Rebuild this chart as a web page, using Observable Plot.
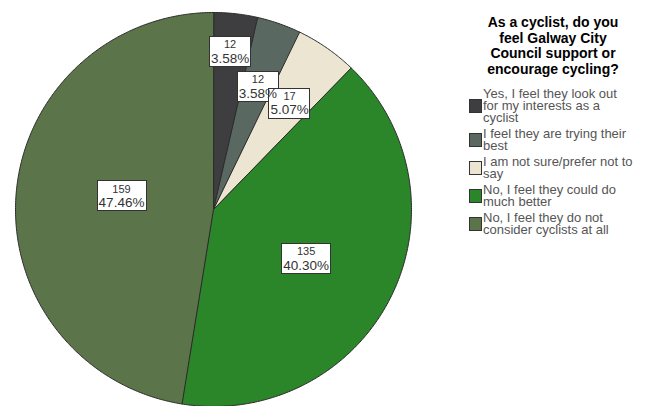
<!DOCTYPE html>
<html>
<head>
<meta charset="utf-8">
<script src="https://cdn.jsdelivr.net/npm/d3@7"></script>
<script src="https://cdn.jsdelivr.net/npm/@observablehq/plot@0.6"></script>
<style>
  html, body { margin: 0; padding: 0; background: #fff; }
  #wrap { position: relative; width: 648px; height: 406px; overflow: hidden; font-family: "Liberation Sans", Arial, sans-serif; }
  #chart { position: absolute; left: 0; top: 0; }
  #title { position: absolute; left: 458px; top: 15px; width: 190px; text-align: center; font-weight: bold; font-size: 14px; line-height: 15.7px; color: #000; white-space: pre-line; }
  #legend { position: absolute; left: 469px; top: 88px; width: 175px; }
  .item { display: flex; align-items: center; margin-bottom: 4px; }
  .sw { width: 11px; height: 12px; border: 1px solid #333; flex: none; margin-right: 1px; }
  .lab { font-size: 13px; line-height: 12px; color: #555; white-space: pre-line; }
</style>
</head>
<body>
<div id="wrap">
  <div id="chart"></div>
  <div id="title"></div>
  <div id="legend"></div>
</div>
<script>
const title = "As a cyclist, do you\nfeel Galway City\nCouncil support or\nencourage cycling?";
const categories = [
  "Yes, I feel they look out for my interests as a cyclist",
  "I feel they are trying their best",
  "I am not sure/prefer not to say",
  "No, I feel they could do much better",
  "No, I feel they do not consider cyclists at all"
];
const legendLines = [
  ["Yes, I feel they look out", "for my interests as a", "cyclist"],
  ["I feel they are trying their", "best"],
  ["I am not sure/prefer not to", "say"],
  ["No, I feel they could do", "much better"],
  ["No, I feel they do not", "consider cyclists at all"]
];
const counts = [12, 12, 17, 135, 159];
const percents = ["3.58%", "3.58%", "5.07%", "40.30%", "47.46%"];
const colors = ["#3e3e40", "#596860", "#ebe5d2", "#2b8529", "#5c744a"];
// label placement (layout): radius fraction and angular nudge in degrees
const labelRadius = [0.807, 0.665, 0.663, 0.529, 0.47];
const labelNudge = [-0.5, 0.4, 0.5, 1.3, 4.1];

// pie geometry from the values
const arcs = d3.pie().sort(null).value(d => d)(counts);
const slicePts = [];
arcs.forEach((a, i) => {
  slicePts.push({cat: categories[i], x: 0, y: 0});
  const n = Math.max(2, Math.ceil((a.endAngle - a.startAngle) / (Math.PI / 360)));
  for (let k = 0; k <= n; k++) {
    const t = a.startAngle + (a.endAngle - a.startAngle) * k / n;
    slicePts.push({cat: categories[i], x: Math.sin(t), y: Math.cos(t)});
  }
});
const labels = arcs.map((a, i) => {
  const m = (a.startAngle + a.endAngle) / 2 + labelNudge[i] * Math.PI / 180;
  return {count: String(counts[i]), pct: percents[i], x: labelRadius[i] * Math.sin(m), y: labelRadius[i] * Math.cos(m)};
});

const svg = Plot.plot({
  width: 440,
  height: 406,
  margin: 0,
  style: {fontFamily: "'Liberation Sans', Arial, sans-serif", background: "transparent"},
  x: {domain: [-1, 1], range: [15, 411], axis: null},
  y: {domain: [-1, 1], range: [406, 12], axis: null},
  color: {domain: categories, range: colors},
  marks: [
    Plot.line(slicePts, {x: "x", y: "y", z: "cat", fill: "cat", stroke: "#2a2a2a", strokeWidth: 1, curve: "linear-closed"}),
    Plot.text(labels, {x: "x", y: "y", text: "count", fontSize: 11, dy: -6.5, fill: "#333"}),
    Plot.text(labels, {x: "x", y: "y", text: "pct", fontSize: 13.5, dy: 7, fill: "#333"})
  ]
});
document.getElementById("chart").appendChild(svg);

// white boxes behind the slice labels
function box(t) {
  const b = t.getBBox();
  let e = 0, f = 0;
  const tl = t.transform && t.transform.baseVal;
  if (tl && tl.numberOfItems) { const m = tl.consolidate().matrix; e = m.e; f = m.f; }
  return {x0: b.x + e, x1: b.x + b.width + e, y0: b.y + f, y1: b.y + b.height + f};
}
const groups = svg.querySelectorAll('g[aria-label="text"]');
const countTexts = groups[0].querySelectorAll("text");
const pctTexts = groups[1].querySelectorAll("text");
const boxG = document.createElementNS("http://www.w3.org/2000/svg", "g");
pctTexts.forEach((t, i) => {
  const b1 = box(t);
  const b0 = box(countTexts[i]);
  const x0 = Math.min(b0.x0, b1.x0) - 1.5, x1 = Math.max(b0.x1, b1.x1) + 1.5;
  const cy = (b0.y0 + b1.y1) / 2;
  const r = document.createElementNS("http://www.w3.org/2000/svg", "rect");
  r.setAttribute("x", Math.round(x0) + 0.5);
  r.setAttribute("y", Math.round(cy - 15) + 0.5);
  r.setAttribute("width", Math.round(x1 - x0));
  r.setAttribute("height", 30);
  r.setAttribute("fill", "#fff");
  r.setAttribute("stroke", "#333");
  boxG.appendChild(r);
});
groups[0].parentNode.insertBefore(boxG, groups[0]);

// legend
document.getElementById("title").textContent = title;
const leg = document.getElementById("legend");
categories.forEach((c, i) => {
  const it = document.createElement("div");
  it.className = "item";
  const sw = document.createElement("div");
  sw.className = "sw";
  sw.style.background = colors[i];
  const lab = document.createElement("div");
  lab.className = "lab";
  lab.textContent = legendLines[i].join("\n");
  it.appendChild(sw);
  it.appendChild(lab);
  leg.appendChild(it);
});
</script>
</body>
</html>
